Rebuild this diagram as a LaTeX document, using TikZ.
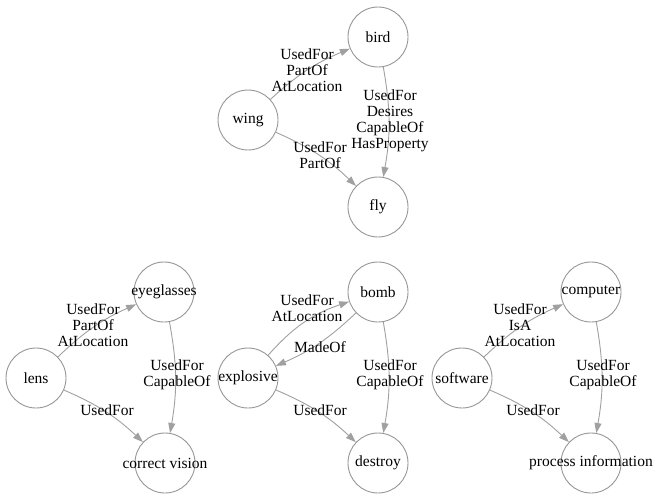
\documentclass[tikz,border=0pt]{standalone}
\usepackage{fontspec}
\setmainfont{Liberation Serif}
\usetikzlibrary{arrows.meta}
\definecolor{ringgray}{RGB}{150,150,150}
\definecolor{edgegray}{RGB}{160,160,160}
\begin{document}
\begin{tikzpicture}[
  x=1pt, y=-1pt,
  font=\fontsize{15.5}{16}\selectfont,
  concept/.style={circle, draw=ringgray, line width=0.9pt, minimum size=60pt, inner sep=0pt},
  lbl/.style={align=center, inner sep=0pt},
  rel/.style={draw=edgegray, line width=0.9pt, -{Triangle[length=10pt,width=7pt]}, bend left=#1},
  rel/.default=10
]
\useasboundingbox (0,0) rectangle (653,496);

\node[concept] (bird) at (378, 37) {bird};
\node[concept] (wing) at (248, 120) {wing};
\node[concept] (fly) at (378, 207) {fly};
\node[concept] (eyeglasses) at (164, 292) {\makebox[0pt]{eyeglasses}};
\node[concept] (lens) at (36, 378) {lens};
\node[concept] (vision) at (165, 463) {\makebox[0pt]{correct vision}};
\node[concept] (bomb) at (378, 292) {bomb};
\node[concept] (explosive) at (248, 378) {\makebox[0pt]{explosive}};
\node[concept] (destroy) at (378, 463) {destroy};
\node[concept] (computer) at (591, 292) {\makebox[0pt]{computer}};
\node[concept] (software) at (462, 378) {\makebox[0pt]{software}};
\node[concept] (process) at (591, 463) {\makebox[0pt]{process information}};

\draw[rel] (wing) to (bird);
\draw[rel] (bird) to (fly);
\draw[rel] (wing) to (fly);
\draw[rel] (lens) to (eyeglasses);
\draw[rel] (eyeglasses) to (vision);
\draw[rel] (lens) to (vision);
\draw[rel=15] (explosive) to (bomb);
\draw[rel] (bomb) to (explosive);
\draw[rel] (bomb) to (destroy);
\draw[rel] (explosive) to (destroy);
\draw[rel] (software) to (computer);
\draw[rel] (computer) to (process);
\draw[rel] (software) to (process);

\node[lbl] (lwingbird) at (307, 70) {UsedFor\\PartOf\\AtLocation};
\node[lbl] (lbirdfly) at (390, 121) {UsedFor\\Desires\\CapableOf\\HasProperty};
\node[lbl] (lwingfly) at (320, 155) {UsedFor\\PartOf};
\node[lbl] (llenseye) at (93, 325) {UsedFor\\PartOf\\AtLocation};
\node[lbl] (leyevision) at (177, 375) {UsedFor\\CapableOf};
\node[lbl] (llensvision) at (107, 410) {UsedFor};
\node[lbl] (lexpbomb) at (307, 308) {UsedFor\\AtLocation};
\node[lbl] (lbombexp) at (320, 347) {MadeOf};
\node[lbl] (lbombdest) at (390, 375) {UsedFor\\CapableOf};
\node[lbl] (lexpdest) at (320, 410) {UsedFor};
\node[lbl] (lsoftcomp) at (520, 325) {UsedFor\\IsA\\AtLocation};
\node[lbl] (lcompproc) at (603, 375) {UsedFor\\CapableOf};
\node[lbl] (lsoftproc) at (533, 410) {UsedFor};

\end{tikzpicture}
\end{document}
